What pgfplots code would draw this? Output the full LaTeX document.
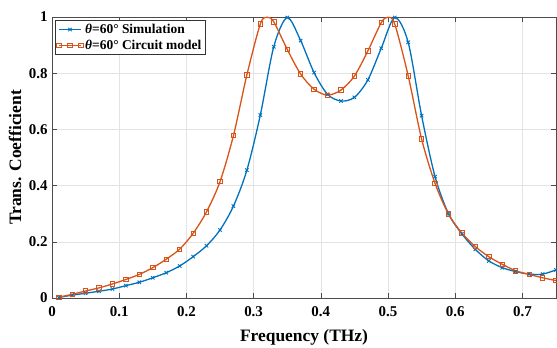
\documentclass[border=0pt]{standalone}
\usepackage{fontspec}
\setmainfont{Liberation Serif}
\usepackage{pgfplots}
\pgfplotsset{compat=1.18}
\definecolor{mblue}{RGB}{0,114,189}
\definecolor{morange}{RGB}{217,83,25}
\begin{document}
\begin{tikzpicture}
\begin{axis}[
  scale only axis,
  width=504bp, height=281bp,
  xmin=0, xmax=0.75, ymin=0, ymax=1,
  xtick={0,0.1,0.2,0.3,0.4,0.5,0.6,0.7},
  ytick={0,0.2,0.4,0.6,0.8,1},
  /pgf/number format/assume math mode=true,
  tick label style={font=\fontsize{15}{15}\selectfont\bfseries},
  xticklabel style={yshift=-5bp},
  yticklabel style={xshift=-1bp},
  tick align=inside,
  major tick length=5bp,
  axis line style={black!70, line width=0.6bp},
  tick style={black!70, line width=0.6bp},
  grid=major,
  major grid style={gray!22, line width=0.5bp},
  xlabel={Frequency (THz)},
  ylabel={Trans. Coefficient},
  every axis x label/.style={at={(axis description cs:0.5,-0.139)}, anchor=center, font=\fontsize{17.5}{17.5}\selectfont\bfseries},
  every axis y label/.style={at={(axis description cs:-0.0734,0.5)}, anchor=center, rotate=90, font=\fontsize{17.5}{17.5}\selectfont\bfseries},
  legend style={at={(axis description cs:0.006,0.988)}, anchor=north west,
    font=\fontsize{13.5}{13.5}\selectfont\bfseries, draw=black!80, line width=0.5bp,
    inner sep=1.5bp, row sep=1bp, fill=white},
  legend cell align=left,
  legend image code/.code={\draw[mark repeat=2,mark phase=2] plot coordinates {(0bp,0bp) (11bp,0bp) (22bp,0bp)};},
]
\addplot[mblue, line width=1.3bp, smooth, mark=x, mark size=2.4bp, mark options={line width=0.9bp}] coordinates {
(0.01,0.002) (0.03,0.010) (0.05,0.017) (0.07,0.024) (0.09,0.032) (0.11,0.044)
(0.13,0.056) (0.15,0.072) (0.17,0.090) (0.19,0.114) (0.21,0.147) (0.23,0.186)
(0.25,0.242) (0.27,0.327) (0.29,0.455) (0.31,0.651) (0.33,0.894) (0.35,0.998)
(0.37,0.916) (0.39,0.802) (0.41,0.725) (0.43,0.701) (0.45,0.714) (0.47,0.776)
(0.49,0.889) (0.51,0.998) (0.53,0.910) (0.55,0.649) (0.57,0.432) (0.59,0.300)
(0.61,0.228) (0.63,0.173) (0.65,0.132) (0.67,0.108) (0.69,0.094) (0.71,0.085)
(0.73,0.085) (0.75,0.100)
};
\addlegendentry{\textit{θ}=60° Simulation}
\addplot[morange, line width=1.3bp, smooth, mark=square, mark size=2.2bp, mark options={line width=0.8bp},
  mark indices={1,2,3,4,5,6,7,8,9,10,11,12,13,14,15,16,18,19,20,21,22,23,24,25,26,28,29,30,31,32,33,34,35,36,37,38,39,40}] coordinates {
(0.01,0.003) (0.03,0.013) (0.05,0.025) (0.07,0.036) (0.09,0.050) (0.11,0.066)
(0.13,0.084) (0.15,0.108) (0.17,0.138) (0.19,0.174) (0.21,0.230) (0.23,0.307)
(0.25,0.414) (0.27,0.578) (0.29,0.794) (0.31,0.975) (0.32,0.999) (0.33,0.983)
(0.35,0.885) (0.37,0.797) (0.39,0.743) (0.41,0.722) (0.43,0.740) (0.45,0.790)
(0.47,0.879) (0.49,0.980) (0.50,0.999) (0.51,0.975) (0.53,0.791) (0.55,0.566)
(0.57,0.408) (0.59,0.299) (0.61,0.231) (0.63,0.183) (0.65,0.147) (0.67,0.120)
(0.69,0.097) (0.71,0.084) (0.73,0.072) (0.75,0.062)
};
\addlegendentry{\textit{θ}=60° Circuit model}
\end{axis}
\pgfresetboundingbox
\path ([shift={(-52bp,-50bp)}]current axis.south west) rectangle ([shift={(1bp,17bp)}]current axis.north east);
\end{tikzpicture}
\end{document}
